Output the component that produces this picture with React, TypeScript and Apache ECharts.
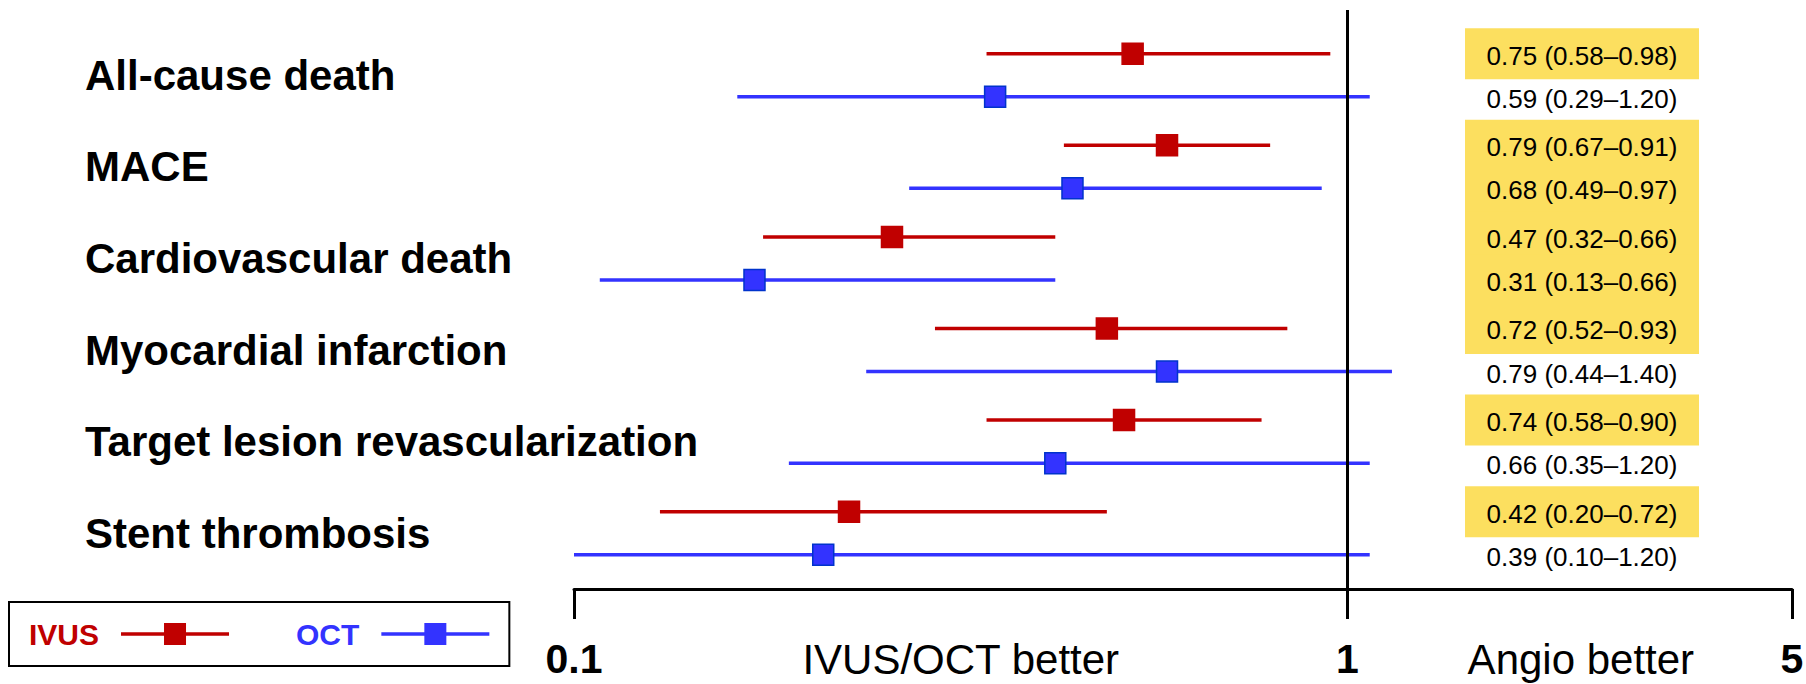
import React, { useEffect, useRef } from 'react';
import * as echarts from 'echarts';

// ---------------- data ----------------
const outcomes = [
  'All-cause death',
  'MACE',
  'Cardiovascular death',
  'Myocardial infarction',
  'Target lesion revascularization',
  'Stent thrombosis',
];
const ivusHR = [0.75, 0.79, 0.47, 0.72, 0.74, 0.42];
const ivusLo = [0.58, 0.67, 0.32, 0.52, 0.58, 0.2];
const ivusHi = [0.98, 0.91, 0.66, 0.93, 0.9, 0.72];
const octHR = [0.59, 0.68, 0.31, 0.79, 0.66, 0.39];
const octLo = [0.29, 0.49, 0.13, 0.44, 0.35, 0.1];
const octHi = [1.2, 0.97, 0.66, 1.4, 1.2, 1.2];
const tickValues = [0.1, 1, 5];
const tickLabels = ['0.1', '1', '5'];
const directionLabels = ['IVUS/OCT better', 'Angio better'];
const directionAt = [0.55, 3.1];
const seriesNames = ['IVUS', 'OCT'];

// ---------------- style / layout ----------------
const FONT = '"Liberation Sans", Arial, Helvetica, sans-serif';
const RED = '#C00000';
const RED_EDGE = '#C00000';
const BLUE = '#3333FF';
const BLUE_EDGE = '#0033CC';
const YELLOW = '#FCDF5F';
const OCT_OFFSET = 0.47;

// piecewise linear HR scale: 0.1..1 and 1..5 occupy different widths
const LEFT_SPAN = 773.5;
const RIGHT_SPAN = 444.5;
const R = RIGHT_SPAN / LEFT_SPAN;
const toAxis = (x: number) => (x <= 1 ? (x - 0.1) / 0.9 : 1 + ((x - 1) / 4) * R);
const U_MAX = toAxis(5);

const Y_MIN = -0.477;
const Y_MAX = 5.844;

const COL_LEFT = 1465;
const COL_WIDTH = 234;
const COL_CENTER = COL_LEFT + COL_WIDTH / 2;

const fmt = (v: number) => v.toFixed(2);

type Row = { y: number; text: string; sig: boolean };
const statRows: Row[] = [];
outcomes.forEach((_, i) => {
  statRows.push({
    y: i,
    text: `${fmt(ivusHR[i])} (${fmt(ivusLo[i])}\u2013${fmt(ivusHi[i])})`,
    sig: ivusHi[i] < 1,
  });
  statRows.push({
    y: i + OCT_OFFSET,
    text: `${fmt(octHR[i])} (${fmt(octLo[i])}\u2013${fmt(octHi[i])})`,
    sig: octHi[i] < 1,
  });
});

const LEGEND_ICON = 'path://M0 9.25H108V12.75H0Z M43 0H65V22H43Z';

function ciSeries(
  name: string,
  color: string,
  edge: string,
  hr: number[],
  lo: number[],
  hi: number[],
  offset: number,
  extra: any = {}
) {
  return {
    type: 'custom',
    name,
    itemStyle: { color },
    encode: { x: [1, 2, 3], y: 0 },
    data: hr.map((h, i) => [i + offset, toAxis(lo[i]), toAxis(h), toAxis(hi[i])]),
    renderItem: (params: any, api: any) => {
      const y = api.value(0);
      const a = api.coord([api.value(1), y]);
      const c = api.coord([api.value(2), y]);
      const b = api.coord([api.value(3), y]);
      return {
        type: 'group',
        children: [
          {
            type: 'line',
            shape: { x1: a[0], y1: a[1], x2: b[0], y2: b[1] },
            style: { stroke: color, lineWidth: 3.5 },
          },
          {
            type: 'rect',
            shape: { x: c[0] - 10.5, y: c[1] - 10.5, width: 21, height: 21 },
            style: { fill: color, stroke: edge, lineWidth: 1.5 },
          },
        ],
      };
    },
    ...extra,
  };
}

function buildOption(): any {
  const xLabelValues = [...tickValues.map(toAxis), ...directionAt.map(toAxis)];
  return {
    animation: false,
    backgroundColor: '#ffffff',
    textStyle: { fontFamily: FONT },
    grid: {
      left: 574,
      right: 1806 - 1792,
      top: 10,
      height: 579,
      containLabel: false,
      outerBoundsMode: 'none',
    },
    legend: {
      left: 9,
      top: 602,
      orient: 'horizontal',
      align: 'right',
      selectedMode: false,
      itemWidth: 108,
      itemHeight: 22,
      itemGap: 67,
      padding: [17, 20, 17, 20],
      borderColor: '#000',
      borderWidth: 2,
      textStyle: {
        fontFamily: FONT,
        fontSize: 30,
        fontWeight: 'bold',
        padding: [0, 17, 0, 0],
      },
      data: [
        { name: seriesNames[0], icon: LEGEND_ICON, textStyle: { color: RED } },
        { name: seriesNames[1], icon: LEGEND_ICON, textStyle: { color: BLUE } },
      ],
    },
    xAxis: {
      type: 'value',
      min: 0,
      max: U_MAX,
      axisLine: { show: true, onZero: false, lineStyle: { color: '#000', width: 3 } },
      axisTick: {
        show: true,
        customValues: tickValues.map(toAxis),
        length: 30,
        lineStyle: { color: '#000', width: 3 },
      },
      splitLine: { show: false },
      axisLabel: {
        show: true,
        customValues: xLabelValues,
        margin: 52,
        formatter: (v: number) => {
          for (let i = 0; i < tickValues.length; i++) {
            if (Math.abs(toAxis(tickValues[i]) - v) < 1e-6) return `{b|${tickLabels[i]}}`;
          }
          for (let i = 0; i < directionAt.length; i++) {
            if (Math.abs(toAxis(directionAt[i]) - v) < 1e-6) return `{n|${directionLabels[i]}}`;
          }
          return '';
        },
        rich: {
          b: { fontFamily: FONT, fontSize: 41, lineHeight: 36, fontWeight: 'bold', color: '#000' },
          n: { fontFamily: FONT, fontSize: 42, lineHeight: 36, fontWeight: 'normal', color: '#000' },
        },
      },
    },
    yAxis: {
      type: 'value',
      inverse: true,
      min: Y_MIN,
      max: Y_MAX,
      axisLine: { show: false, onZero: false },
      axisTick: { show: false },
      splitLine: { show: false },
      axisLabel: {
        show: true,
        customValues: outcomes.map((_, i) => i + OCT_OFFSET / 2),
        formatter: (v: number) => outcomes[Math.round(v - OCT_OFFSET / 2)] ?? '',
        align: 'left',
        margin: 574 - 85,
        fontFamily: FONT,
        fontSize: 42,
        fontWeight: 'bold',
        color: '#000',
      },
    },
    series: [
      {
        type: 'custom',
        name: 'stats',
        silent: true,
        encode: { x: 0, y: 1 },
        data: statRows.map((r) => [U_MAX, r.y]),
        renderItem: (params: any, api: any) => {
          const p = api.coord([api.value(0), api.value(1)]);
          const row = statRows[params.dataIndex];
          const children: any[] = [];
          if (row.sig) {
            children.push({
              type: 'rect',
              shape: { x: COL_LEFT, y: p[1] - 25.5, width: COL_WIDTH, height: 51 },
              style: { fill: YELLOW },
            });
          }
          children.push({
            type: 'text',
            x: COL_CENTER,
            y: p[1] + 2,
            style: {
              text: row.text,
              fill: '#000',
              fontFamily: FONT,
              fontSize: 26,
              align: 'center',
              verticalAlign: 'middle',
            },
          });
          return { type: 'group', children };
        },
      },
      ciSeries(seriesNames[0], RED, RED_EDGE, ivusHR, ivusLo, ivusHi, 0, {
        markLine: {
          silent: true,
          symbol: ['none', 'none'],
          label: { show: false },
          lineStyle: { color: '#000', width: 3, type: 'solid' },
          emphasis: { disabled: true },
          data: [{ xAxis: toAxis(1) }],
        },
      }),
      ciSeries(seriesNames[1], BLUE, BLUE_EDGE, octHR, octLo, octHi, OCT_OFFSET),
    ],
  };
}

export default function App() {
  const ref = useRef<HTMLDivElement | null>(null);
  useEffect(() => {
    if (!ref.current) return;
    const chart = echarts.init(ref.current, null, { renderer: 'svg' });
    chart.setOption(buildOption());
    return () => {
      chart.dispose();
    };
  }, []);
  return (
    <div
      ref={ref}
      style={{ position: 'fixed', left: 0, top: 0, width: 1806, height: 684, background: '#fff' }}
    />
  );
}
